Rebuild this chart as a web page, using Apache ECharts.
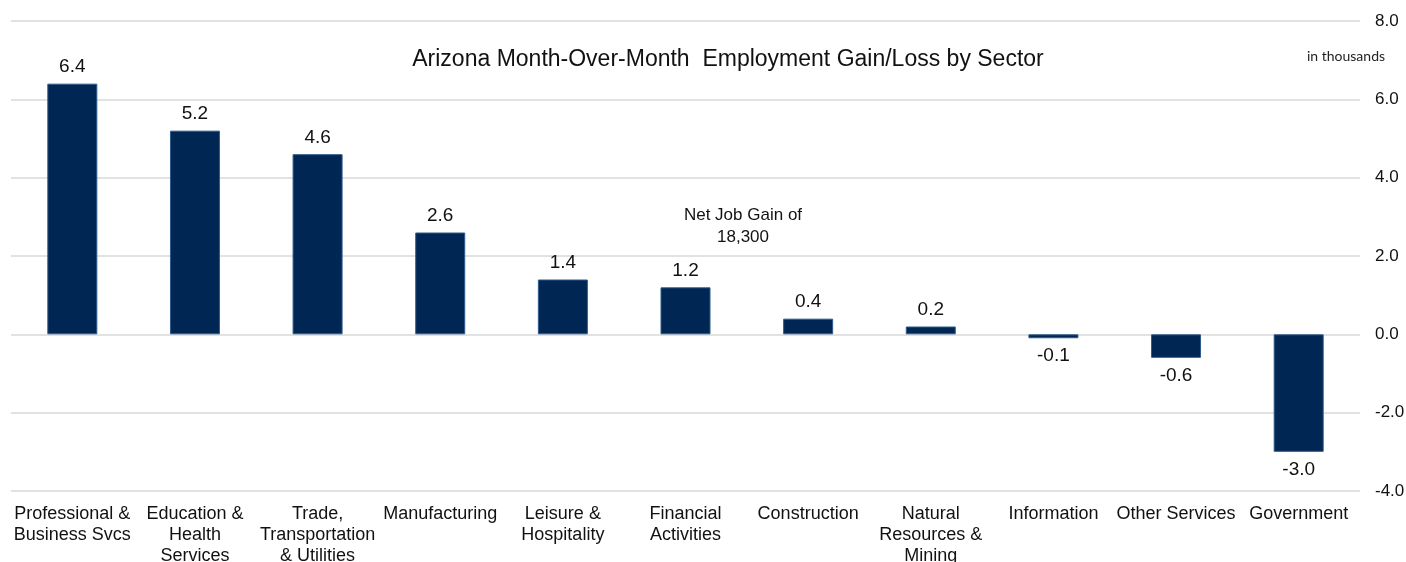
<!DOCTYPE html>
<html>
<head>
<meta charset="utf-8">
<script src="https://cdn.jsdelivr.net/npm/echarts@6/dist/echarts.min.js"></script>
<style>
html,body{margin:0;padding:0;background:#fff;}
#c{width:1406px;height:562px;}
</style>
</head>
<body>
<div id="c"></div>
<script>
const categories = ["Professional &\nBusiness Svcs","Education &\nHealth\nServices","Trade,\nTransportation\n& Utilities","Manufacturing","Leisure &\nHospitality","Financial\nActivities","Construction","Natural\nResources &\nMining","Information","Other Services","Government"];
const values = [6.4, 5.2, 4.6, 2.6, 1.4, 1.2, 0.4, 0.2, -0.1, -0.6, -3.0];
const titleText = "Arizona Month-Over-Month  Employment Gain/Loss by Sector";
const unitText = "in thousands";
const noteText = "Net Job Gain of\n18,300";

const chart = echarts.init(document.getElementById('c'), null, {renderer:'canvas'});
const font = '"Liberation Sans", Arial, sans-serif';
chart.setOption({
  animation:false,
  backgroundColor:'#fff',
  grid:{left:11, right:46, top:21, bottom:71, outerBoundsMode:'none', containLabel:false},
  xAxis:{
    type:'category',
    data:categories,
    position:'bottom',
    axisLine:{show:false},
    axisTick:{show:false},
    axisLabel:{fontFamily:font, fontSize:18, color:'#111', lineHeight:21, margin:13, interval:0, align:'center', verticalAlign:'top'}
  },
  yAxis:{
    type:'value',
    position:'right',
    min:-4, max:8, interval:2,
    axisLine:{show:false},
    axisTick:{show:false},
    splitLine:{lineStyle:{color:'#d9d9d9', width:1.5}},
    axisLabel:{fontFamily:font, fontSize:17, color:'#111', margin:15, formatter:v=>v.toFixed(1)}
  },
  series:[{
    type:'bar',
    data:values.map(v=>({value:v, label:{position: v>=0?'top':'bottom', distance: v>=0?7:8}})),
    barWidth:50,
    itemStyle:{color:'#002653', borderColor:'#2d5b8c', borderWidth:1},
    label:{show:true, fontFamily:font, fontSize:19, color:'#111', formatter:p=>p.value.toFixed(1)}
  }],
  graphic:[
    {type:'text', x:728, y:60, style:{text:titleText, font:'23px '+font, fill:'#111', align:'center', verticalAlign:'middle'}},
    {type:'text', x:1346, y:56, style:{text:unitText, font:'14px Lato, sans-serif', fill:'#222', align:'center', verticalAlign:'middle'}},
    {type:'text', x:743, y:226, style:{text:noteText, font:'17px '+font, fill:'#111', align:'center', verticalAlign:'middle', lineHeight:22}}
  ]
});
</script>
</body>
</html>
